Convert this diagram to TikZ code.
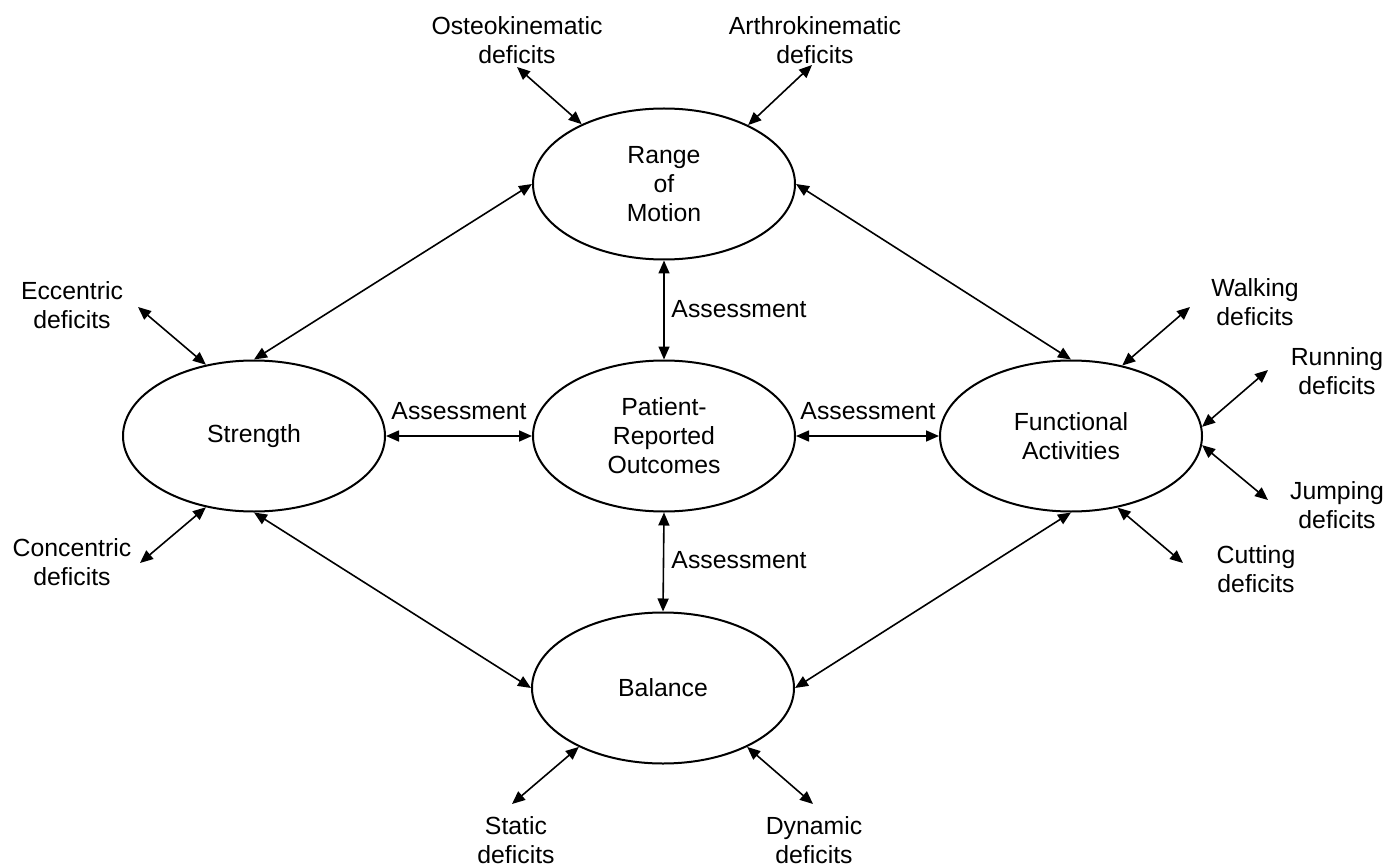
\documentclass[tikz,border=0pt]{standalone}
\usepackage{fontspec}
\setmainfont{Liberation Sans}
\usetikzlibrary{shapes.geometric,arrows.meta}

\begin{document}
\begin{tikzpicture}[x=0.5pt,y=-0.5pt,
  every node/.style={font=\fontsize{12.4}{14.5}\selectfont,align=center},
  area/.style={draw,ellipse,line width=1pt,inner sep=0pt,minimum width=131pt,minimum height=75.5pt},
  link/.style={line width=0.8pt,{Triangle[length=6.5pt,width=5.5pt]}-{Triangle[length=6.5pt,width=5.5pt]}}]
\useasboundingbox (0,0) rectangle (1386,866);

\node [area] at (664,184) (rom) {Range\\of\\Motion};
\node [area] at (254,436) (str) {Strength};
\node [area] at (664,436) (pro) {Patient-\\Reported\\Outcomes};
\node [area] at (1071,436) (fa) {Functional\\Activities};
\node [area] at (663,688) (bal) {Balance};

\draw [link] (rom.west) to (str.north);
\draw [link] (rom.east) to (fa.north);
\draw [link] (str.south) to (bal.west);
\draw [link] (bal.east) to (fa.south);
\draw [link] (rom.south) to (pro.north);
\draw [link] (pro.south) to (bal.north);
\draw [link] (str.east) to (pro.west);
\draw [link] (pro.east) to (fa.west);

\node at (739,309) (a1) {Assessment};
\node at (739,560) (a2) {Assessment};
\node at (459,411) (a3) {Assessment};
\node at (868,411) (a4) {Assessment};

\node at (517,40) (ost) {Osteokinematic\\deficits};
\node at (815,40) (art) {Arthrokinematic\\deficits};
\node at (72,305) (ecc) {Eccentric\\deficits};
\node at (72,562) (con) {Concentric\\deficits};
\node at (1255,302) (walk) {Walking\\deficits};
\node at (1337,371) (run) {Running\\deficits};
\node at (1337,505) (jump) {Jumping\\deficits};
\node at (1256,569) (cut) {Cutting\\deficits};
\node at (516,840) (stat) {Static\\deficits};
\node at (814,840) (dyn) {Dynamic\\deficits};

\coordinate (ostend) at (517,67);
\coordinate (artend) at (812,65);
\coordinate (eccend) at (138,307);
\coordinate (conend) at (140,563);
\coordinate (walkend) at (1190,307);
\coordinate (runend) at (1268,370);
\coordinate (jumpend) at (1268,500);
\coordinate (cutend) at (1183,563);
\coordinate (statend) at (512,804);
\coordinate (dynend) at (813,804);

\draw [link] (ostend) to (rom.144);
\draw [link] (artend) to (rom.35);
\draw [link] (eccend) to (str.124);
\draw [link] (conend) to (str.236);
\draw [link] (walkend) to (fa.54);
\draw [link] (runend) to (fa.4);
\draw [link] (jumpend) to (fa.-4);
\draw [link] (cutend) to (fa.-57);
\draw [link] (statend) to (bal.215);
\draw [link] (dynend) to (bal.-35);

\end{tikzpicture}
\end{document}
